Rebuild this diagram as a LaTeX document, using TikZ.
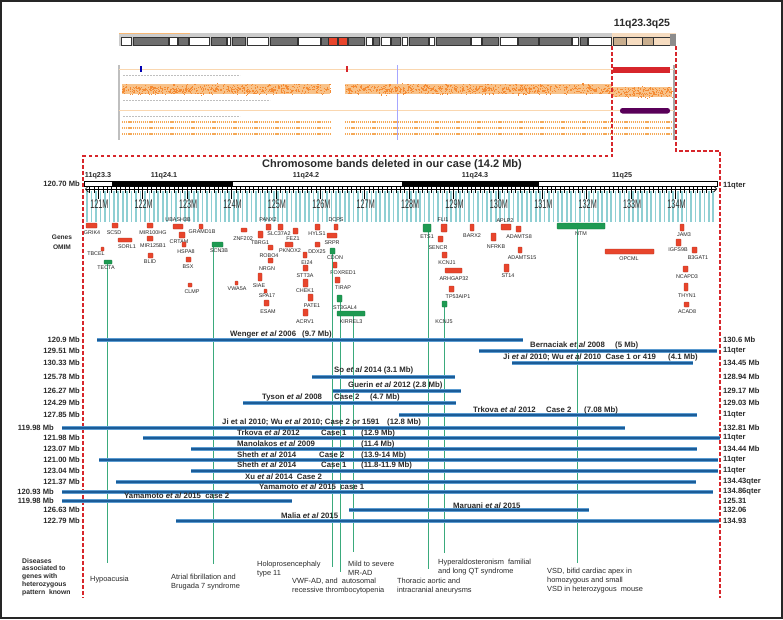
\documentclass[tikz,border=0pt]{standalone}
\usepackage{fontspec}
\setmainfont{Liberation Sans}
\usetikzlibrary{arrows.meta}
\definecolor{dred}{HTML}{D7262B}
\definecolor{gred}{HTML}{E8452C}
\definecolor{ggreen}{HTML}{1E9A52}
\definecolor{lgreen}{HTML}{3AAA7C}
\definecolor{dblue}{HTML}{1B5C98}
\definecolor{lblue}{HTML}{5B9BD0}
\definecolor{cyanst}{HTML}{8FCFD3}
\definecolor{txt}{HTML}{2A2A2A}
\definecolor{ora}{HTML}{F39A3A}
\definecolor{bandg}{HTML}{6E6E6E}
\definecolor{tan}{HTML}{C9AE8E}
\definecolor{lbeige}{HTML}{F6DCC0}
\newcommand\gn[8]{\path[#8] (#2,#3) rectangle (#4,#5); \node[gl] (g#1) at (#6,#7) {#1};}
\newcommand\studybar[6]{%
 \draw[lblue, line width=3.4pt] (#2,#1) -- (#3,#1);
 \draw[dblue, line width=2.2pt] (#2,#1) -- (#3,#1);
 \node[sl, anchor=east] (L#1) at (#5,#1) {#4};
 \node[sl, anchor=west] (R#1) at (723,#1) {#6};}
\begin{document}
\begin{tikzpicture}[x=1pt,y=-1pt,
 gl/.style={font=\fontsize{5.4}{6}\selectfont, inner sep=0pt, text=black!85},
 bl/.style={font=\bfseries\fontsize{7.8}{9}\selectfont, inner sep=0pt, anchor=west, text=txt},
 sl/.style={font=\bfseries\fontsize{7.6}{9}\selectfont, inner sep=0pt, text=txt},
 dl/.style={font=\fontsize{7.4}{9}\selectfont, inner sep=0pt, anchor=west, align=left, text=txt},
 redbox/.style={fill=gred, draw=gred!75!black, line width=0.3pt, rounded corners=0.5pt},
 grnbox/.style={fill=ggreen, draw=ggreen!75!black, line width=0.3pt, rounded corners=0.5pt},
 gline/.style={lgreen, line width=1pt},
 dashred/.style={dred, line width=1.1pt, dash pattern=on 3.5pt off 2.5pt},
]
\useasboundingbox (0,0) rectangle (783,619);
\fill[white] (0,0) rectangle (783,619);
\draw[line width=2pt, black!85] (1,1) rectangle (782,618);

% ---------- ideogram ----------
\fill[black!20] (119,33) rectangle (676,46);
\fill[lbeige] (612,33) rectangle (676,46);
\draw[ora!70, line width=1pt] (119,33.5) -- (190,33.5);
\foreach \a/\b/\c in {121/131/white,133/168/bandg,169/177/white,178/188/bandg,189/209/white,211/226/bandg,227/230/white,232/245/bandg,247/268/white,270/297/bandg,298/320/white,321/328/bandg,328/337/gred,338/347/gred,348/364/bandg,366/372/white,373/379/bandg,381/390/white,391/400/bandg,402/407/white,409/428/bandg,429/434/white,436/470/bandg,471/481/white,482/498/bandg,500/517/white,518/538/bandg,539/571/bandg,572/578/white,580/587/bandg,588/611/white,613/626/tan,626/642/lbeige,642/653/tan,653/670/lbeige}
  {\filldraw[fill=\c, draw=black!80, line width=0.4pt] (\a,37) rectangle (\b,45);}
\fill[black!45] (670,34) rectangle (676,46);
\node[font=\bfseries\fontsize{10.5}{12}\selectfont, text=txt] (chrlab) at (642,24) {11q23.3q25};

% ---------- data panel ----------
\draw[black!25, line width=1.5pt] (119,65) -- (119,140);
\draw[black!35, line width=1.5pt] (674,65) -- (674,140);
\draw[ora!40, line width=0.6pt] (119,69) -- (674,69);
\draw[ora!40, line width=0.6pt] (119,110) -- (674,110);
\draw[blue!35, line width=0.6pt] (397,65) -- (397,140);
\foreach \yy/\xe in {75/240,100/270,116/240} {\draw[black!25, line width=0.9pt, dash pattern=on 2pt off 1pt] (123,\yy) -- (\xe,\yy);}
\fill[ora!60] (122,84) rectangle (330,94);
\fill[ora!60] (345,84) rectangle (612,94);
\fill[ora!60] (612,87) rectangle (672,97);
\pgfmathsetseed{7}
\foreach \i in {1,...,600}{
  \pgfmathsetmacro\xx{122+rnd*208}
  \pgfmathsetmacro\yy{89+6*(rnd+rnd-1)}
  \fill[ora!90!red] (\xx,\yy) rectangle ++(1.1,1.1);
}
\foreach \i in {1,...,750}{
  \pgfmathsetmacro\xx{345+rnd*267}
  \pgfmathsetmacro\yy{89+6*(rnd+rnd-1)}
  \fill[ora!90!red] (\xx,\yy) rectangle ++(1.1,1.1);
}
\foreach \i in {1,...,180}{
  \pgfmathsetmacro\xx{612+rnd*60}
  \pgfmathsetmacro\yy{92+6*(rnd+rnd-1)}
  \fill[ora!90!red] (\xx,\yy) rectangle ++(1.1,1.1);
}
\foreach \yy in {122,128,134}{
  \draw[ora!85, line width=1.4pt, dash pattern=on 1.2pt off 0.9pt] (122,\yy) -- (330,\yy);
  \draw[ora!85, line width=1.4pt, dash pattern=on 1.2pt off 0.9pt] (345,\yy) -- (672,\yy);
}
\fill[dred] (613,67) rectangle (670,73);
\fill[violet!70!black, rounded corners=2.5pt] (620,108) rectangle (670,113.5);
\fill[blue!70!black] (140,66) rectangle (142,72);
\fill[dred] (346,66) rectangle (348,72);

% ---------- dashed frame ----------
\draw[dashred] (612,46) -- (612,156) -- (83,156) -- (83,598);
\draw[dashred] (676,46) -- (676,151) -- (720,151) -- (720,598);

% ---------- title & bands ----------
\node[font=\bfseries\fontsize{11}{13}\selectfont, text=txt] (title) at (392,164.5) {Chromosome bands deleted in our case (14.2 Mb)};
\draw[line width=0.8pt, fill=white] (84,181.5) rectangle (717,186.5);
\fill[black] (112,181.5) rectangle (233,186.5);
\fill[black] (402,181.5) rectangle (539,186.5);
\foreach \x/\t in {98/11q23.3,164/11q24.1,306/11q24.2,475/11q24.3,622/11q25}
  {\node[font=\bfseries\fontsize{7.2}{8}\selectfont, text=txt] (b\t) at (\x,176) {\t};}
\node[sl, anchor=east] (start) at (80,184) {120.70 Mb};
\node[sl, anchor=west] (qter) at (723,186) {11qter};

% ---------- ruler ----------
\foreach \k in {0,...,141} {\draw[cyanst, line width=1.7pt] (87.2+\k*4.44,191) -- (87.2+\k*4.44,222);}
\draw[line width=0.7pt, {Straight Barb[length=3pt,width=6pt]}-{Straight Barb[length=3pt,width=6pt]}] (85,189) -- (717,189);
\foreach \k in {1,...,141} {\draw[line width=0.5pt] (85+\k*4.44,186) -- (85+\k*4.44,193);}
\foreach \m in {121,...,134}{
  \pgfmathsetmacro\xm{85+(\m-120.7)*44.4}
  \draw[line width=0.7pt] (\xm,186) -- (\xm,199);
  \node[font=\fontsize{12.5}{13}\selectfont, text=black!80, inner sep=0pt] (m\m) at (\xm+1,204) {\scalebox{0.58}[1]{\m M}};
}

% ---------- genes ----------
\node[font=\bfseries\fontsize{6.6}{7}\selectfont, text=txt, inner sep=0pt] (genes) at (62,237) {Genes};
\node[font=\bfseries\fontsize{6.6}{7}\selectfont, text=txt, inner sep=0pt] (omim) at (62,247) {OMIM};

\gn{GRIK4}{86}{223}{97}{228}{92}{233}{redbox}
\gn{SC5D}{112}{223}{118}{228}{114}{233}{redbox}
\gn{MIR100HG}{147}{223}{153}{228}{153}{233}{redbox}
\gn{UBASH3B}{173}{224}{183}{229}{178}{220}{redbox}
\gn{GRAMD1B}{199}{224}{203}{229}{202}{232}{redbox}
\gn{ZNF202}{241}{228}{247}{232}{243}{239}{redbox}
\gn{PANX2}{266}{224}{271}{230}{268}{220}{redbox}
\gn{SLC37A2}{278}{224}{283}{230}{279}{234}{redbox}
\gn{FEZ1}{293}{228}{298}{234}{293}{239}{redbox}
\gn{HYLS1}{315}{224}{320}{230}{317}{234}{redbox}
\gn{DCPS}{334}{224}{338}{230}{336}{220}{redbox}
\gn{SORL1}{118}{238}{132}{242}{127}{247}{redbox}
\gn{MIR125B1}{147}{236}{153}{241}{153}{246}{redbox}
\gn{CRTAM}{179}{232}{185}{238}{179}{242}{redbox}
\gn{TBRG1}{258}{231}{263}{238}{260}{243}{redbox}
\gn{PKNOX2}{285}{242}{293}{247}{290}{251}{redbox}
\gn{SRPR}{327}{233}{337}{238}{332}{243}{redbox}
\gn{DDX25}{315}{242}{320}{247}{317}{252}{redbox}
\gn{TBCEL}{101}{247}{104}{251}{96}{254}{redbox}
\gn{HSPA8}{182}{242}{186}{247}{186}{252}{redbox}
\gn{BLID}{148}{253}{153}{258}{150}{262}{redbox}
\gn{ROBO4}{268}{245}{273}{250}{269}{256}{redbox}
\gn{BSX}{186}{257}{191}{262}{188}{267}{redbox}
\gn{EI24}{303}{252}{307}{258}{307}{263}{redbox}
\gn{NRGN}{268}{258}{273}{263}{267}{269}{redbox}
\gn{FOXRED1}{333}{262}{337}{268}{343}{273}{redbox}
\gn{STT3A}{303}{265}{308}{271}{305}{276}{redbox}
\gn{SIAE}{258}{273}{262}{281}{259}{286}{redbox}
\gn{TIRAP}{335}{277}{340}{283}{343}{288}{redbox}
\gn{VWA5A}{235}{281}{238}{285}{237}{289}{redbox}
\gn{CHEK1}{303}{279}{308}{287}{305}{291}{redbox}
\gn{CLMP}{188}{283}{192}{287}{192}{292}{redbox}
\gn{SPA17}{264}{289}{267}{293}{267}{296}{redbox}
\gn{PATE1}{308}{294}{313}{301}{312}{306}{redbox}
\gn{ESAM}{264}{300}{269}{306}{268}{312}{redbox}
\gn{ACRV1}{303}{309}{308}{316}{305}{322}{redbox}
\gn{FLI1}{441}{224}{447}{232}{443}{220}{redbox}
\gn{BARX2}{470}{224}{474}{231}{472}{236}{redbox}
\gn{APLP2}{501}{224}{511}{230}{505}{220.5}{redbox}
\gn{ADAMTS8}{516}{226}{521}{232}{519}{237}{redbox}
\gn{NFRKB}{491}{233}{496}{241}{496}{247}{redbox}
\gn{SENCR}{438}{236}{443}{242}{438}{248}{redbox}
\gn{KCNJ1}{442}{252}{447}{258}{447}{263}{redbox}
\gn{ADAMTS15}{518}{247}{522}{253}{522}{258}{redbox}
\gn{ARHGAP32}{445}{268}{462}{273}{454}{279}{redbox}
\gn{ST14}{504}{264}{509}{272}{508}{276}{redbox}
\gn{TP53AIP1}{449}{286}{454}{292}{458}{297}{redbox}
\gn{JAM3}{680}{224}{684}{231}{684}{235}{redbox}
\gn{IGFS9B}{676}{239}{681}{246}{678}{250}{redbox}
\gn{B3GAT1}{692}{247}{697}{253}{698}{258}{redbox}
\gn{OPCML}{605}{249}{654}{254}{629}{259}{redbox}
\gn{NCAPD3}{683}{266}{688}{272}{687}{277}{redbox}
\gn{THYN1}{684}{283}{688}{291}{687}{296}{redbox}
\gn{ACAD8}{684}{302}{689}{307}{687}{312}{redbox}

% green lines (drawn under green boxes)
\draw[gline] (107,264) -- (107,563);
\draw[gline] (213,247) -- (213,564);
\draw[gline] (332,254) -- (332,567);
\draw[gline] (340,302) -- (340,572);
\draw[gline] (353,316) -- (353,552);
\draw[gline] (428,232) -- (428,569);
\draw[gline] (444,307) -- (444,553);
\draw[gline] (577,229) -- (577,563);

\gn{TECTA}{104}{260}{112}{264}{106}{268}{grnbox}
\gn{SCN3B}{212}{242}{223}{247}{219}{251}{grnbox}
\gn{CDON}{330}{248}{335}{254}{335}{258}{grnbox}
\gn{ST3GAL4}{337}{295}{342}{302}{345}{308}{grnbox}
\gn{KIRREL3}{337}{311}{365}{316}{351}{322}{grnbox}
\gn{ETS1}{423}{224}{431}{232}{427}{237}{grnbox}
\gn{KCNJ5}{442}{301}{447}{307}{444}{322}{grnbox}
\gn{NTM}{557}{223}{605}{229}{581}{234}{grnbox}

% ---------- study bars ----------
\studybar{340}{97}{523}{120.9 Mb}{80}{130.6 Mb}
\studybar{351}{479}{717}{129.51 Mb}{80}{11qter}
\studybar{363}{512}{693}{130.33 Mb}{80}{134.45 Mb}
\studybar{377}{312}{455}{125.78 Mb}{80}{128.94 Mb}
\studybar{391}{333}{461}{126.27 Mb}{80}{129.17 Mb}
\studybar{403}{243}{456}{124.29 Mb}{80}{129.03 Mb}
\studybar{415}{399}{697}{127.85 Mb}{80}{11qter}
\studybar{428}{62}{625}{119.98 Mb}{54}{132.81 Mb}
\studybar{438}{143}{720}{121.98 Mb}{80}{11qter}
\studybar{449}{191}{697}{123.07 Mb}{80}{134.44 Mb}
\studybar{460}{99}{718}{121.00 Mb}{80}{11qter}
\studybar{471}{191}{718}{123.04 Mb}{80}{11qter}
\studybar{482}{116}{696}{121.37 Mb}{80}{134.43qter}
\studybar{492}{62}{713}{120.93 Mb}{54}{134.86qter}
\studybar{501}{62}{292}{119.98 Mb}{54}{125.31}
\studybar{510}{349}{589}{126.63 Mb}{80}{132.06}
\studybar{521}{176}{719}{122.79 Mb}{80}{134.93}

\node[bl] (s1a) at (230,334) {Wenger \emph{et al} 2006};
\node[bl] (s1b) at (302,334) {(9.7 Mb)};
\node[bl] (s2a) at (530,345) {Bernaciak \emph{et al} 2008};
\node[bl] (s2b) at (615,345) {(5 Mb)};
\node[bl] (s3a) at (503,357) {Ji \emph{et al} 2010; Wu \emph{et al} 2010\ \ Case 1 or 419};
\node[bl] (s3b) at (668,357) {(4.1 Mb)};
\node[bl] (s4) at (334,370) {So \emph{et al} 2014 (3.1 Mb)};
\node[bl] (s5) at (348,385) {Guerin \emph{et al} 2012 (2.8 Mb)};
\node[bl] (s6a) at (262,397) {Tyson \emph{et al} 2008};
\node[bl] (s6b) at (334,397) {Case 2};
\node[bl] (s6c) at (370,397) {(4.7 Mb)};
\node[bl] (s7a) at (473,410) {Trkova \emph{et al} 2012};
\node[bl] (s7b) at (546,410) {Case 2};
\node[bl] (s7c) at (584,410) {(7.08 Mb)};
\node[bl] (s8a) at (222,422) {Ji et al 2010; Wu \emph{et al} 2010; Case 2 or 1591};
\node[bl] (s8b) at (387,422) {(12.8 Mb)};
\node[bl] (s9a) at (237,433) {Trkova \emph{et al} 2012};
\node[bl] (s9b) at (321,433) {Case 1};
\node[bl] (s9c) at (361,433) {(12.9 Mb)};
\node[bl] (s10a) at (237,444) {Manolakos \emph{et al} 2009};
\node[bl] (s10b) at (361,444) {(11.4 Mb)};
\node[bl] (s11a) at (237,455) {Sheth \emph{et al} 2014};
\node[bl] (s11b) at (319,455) {Case 2};
\node[bl] (s11c) at (361,455) {(13.9-14 Mb)};
\node[bl] (s12a) at (237,465) {Sheth \emph{et al} 2014};
\node[bl] (s12b) at (321,465) {Case 1};
\node[bl] (s12c) at (361,465) {(11.8-11.9 Mb)};
\node[bl] (s13) at (245,477) {Xu \emph{et al} 2014\ \ Case 2};
\node[bl] (s14) at (259,487) {Yamamoto \emph{et al} 2015\ \ case 1};
\node[bl] (s15) at (124,496) {Yamamoto \emph{et al} 2015\ \ case 2};
\node[bl] (s16) at (453,506) {Maruani \emph{et al} 2015};
\node[bl] (s17) at (281,516) {Malia \emph{et al} 2015};

% ---------- diseases ----------
\node[font=\bfseries\fontsize{6.8}{7.8}\selectfont, inner sep=0pt, anchor=west, align=left, text=txt] (dis) at (22,577) {Diseases\\associated to\\genes with\\heterozygous\\pattern\ \ known};
\node[dl] (d1) at (90,580) {Hypoacusia};
\node[dl] (d2) at (171,582) {Atrial fibrillation and\\Brugada 7 syndrome};
\node[dl] (d3) at (257,569) {Holoprosencephaly\\type 11};
\node[dl] (d4) at (292,586.5) {VWF-AD, and\ \ autosomal\\recessive thrombocytopenia};
\node[dl] (d5) at (348,568.5) {Mild to severe\\MR-AD};
\node[dl] (d6) at (397,586.5) {Thoracic aortic and\\intracranial aneurysms};
\node[dl] (d7) at (438,567.5) {Hyperaldosteronism\ \ familial\\and long QT syndrome};
\node[dl] (d8) at (547,581) {VSD, bifid cardiac apex in\\homozygous and small\\VSD in heterozygous\ \ mouse};
\end{tikzpicture}
\end{document}
